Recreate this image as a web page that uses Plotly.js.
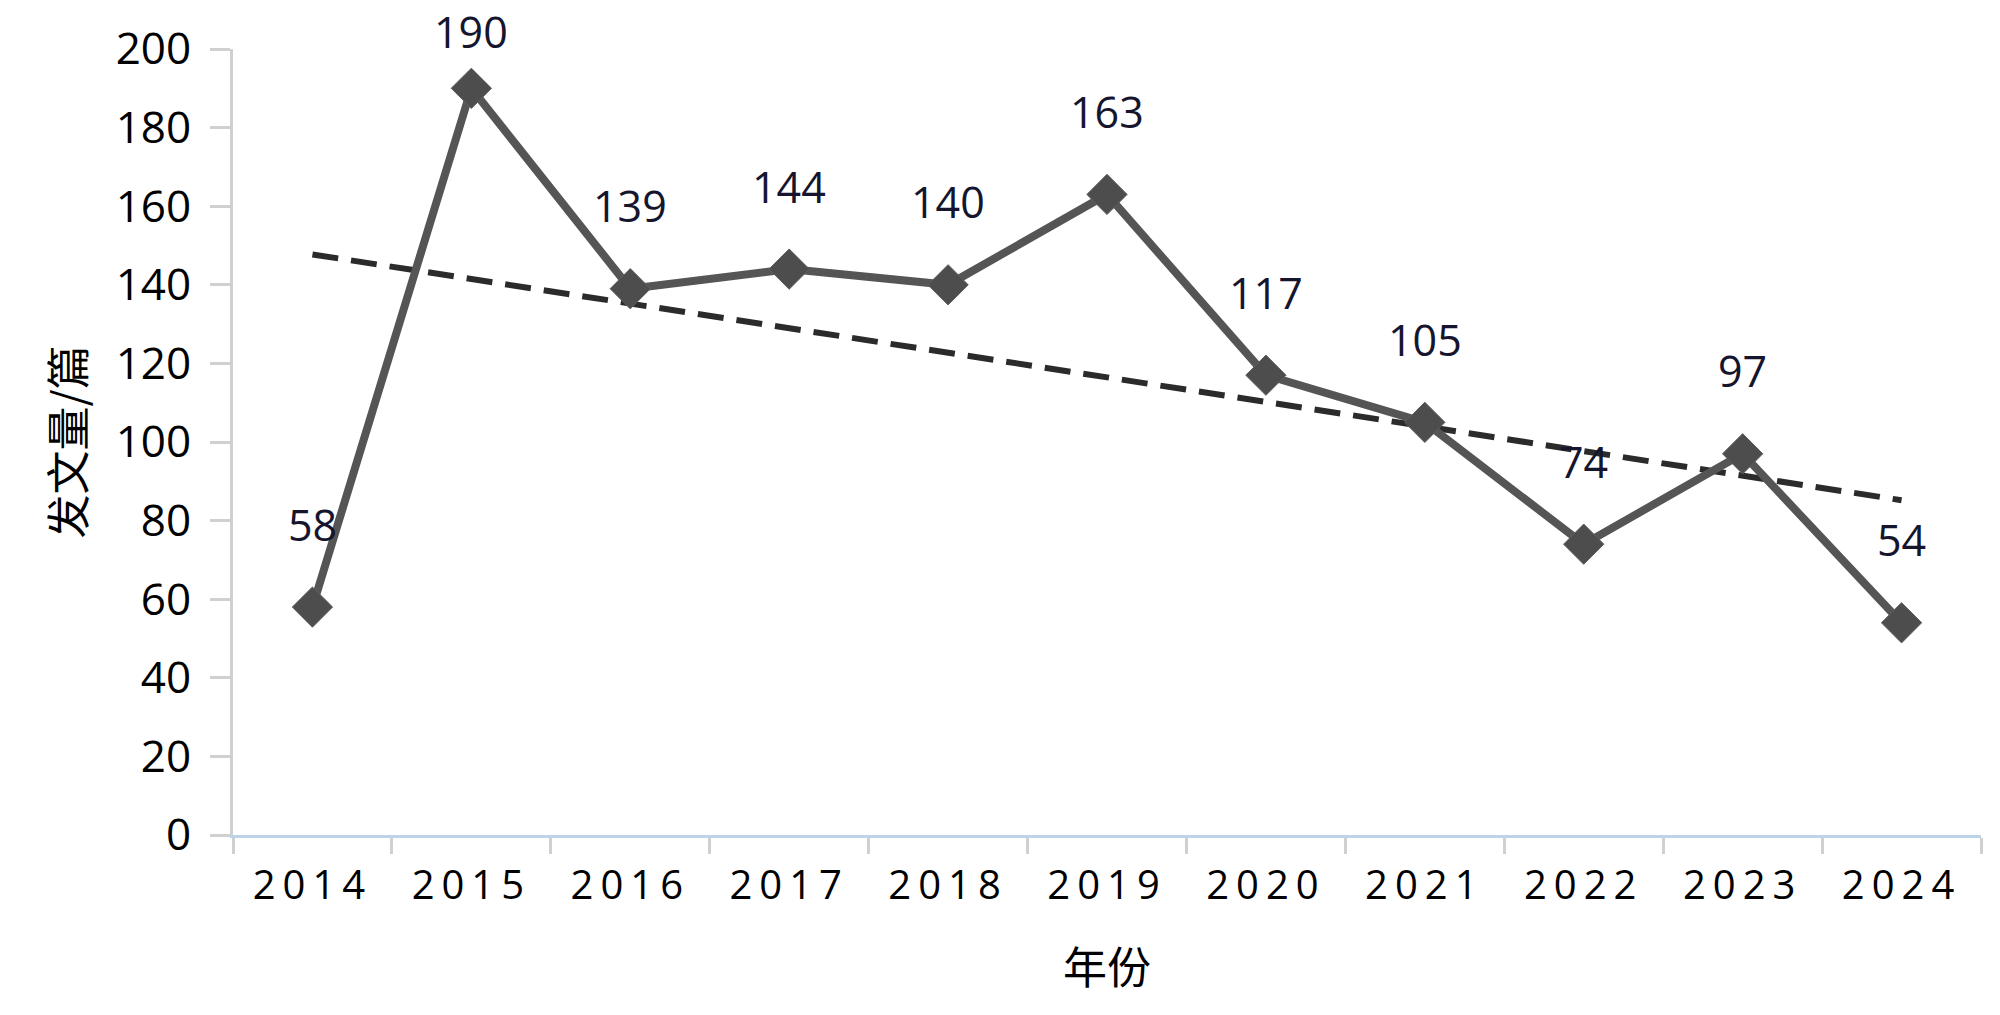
<!DOCTYPE html>
<html>
<head>
<meta charset="utf-8">
<script src="https://cdn.plot.ly/plotly-3.0.1.min.js"></script>
<style>
  html, body { margin: 0; padding: 0; background: #ffffff; }
  #chart { width: 2000px; height: 1015px; }
  .xtick text { letter-spacing: 7px; }
</style>
</head>
<body>
<div id="chart"></div>
<script>
// ---- data ----
const years = ['2014', '2015', '2016', '2017', '2018', '2019', '2020', '2021', '2022', '2023', '2024'];
const counts = [58, 190, 139, 144, 140, 163, 117, 105, 74, 97, 54];
const yTickValues = [0, 20, 40, 60, 80, 100, 120, 140, 160, 180, 200];
const xAxisTitle = '年份';
const yAxisTitle = '发文量/篇';

// ---- linear trend (least squares over the series) ----
const idx = counts.map((_, i) => i);
const mx = idx.reduce((a, b) => a + b, 0) / idx.length;
const my = counts.reduce((a, b) => a + b, 0) / counts.length;
let sxy = 0, sxx = 0;
idx.forEach((x, i) => { sxy += (x - mx) * (counts[i] - my); sxx += (x - mx) * (x - mx); });
const slope = sxy / sxx;
const intercept = my - slope * mx;
const trend = idx.map(x => intercept + slope * x);

// ---- layout constants ----
const W = 2000, H = 1015;
const M = { l: 233, r: 19, t: 49, b: 180 };
const plotH = H - M.t - M.b;
const yMax = 200;
const pxPerUnit = plotH / yMax;
const labelLift = 83;

const annotations = counts.map((v, i) => {
  const roomAbove = M.t + (yMax - v) * pxPerUnit;
  return {
    x: i, y: v, xref: 'x', yref: 'y',
    text: String(v), showarrow: false,
    xanchor: 'center', yanchor: 'middle',
    yshift: Math.min(labelLift, roomAbove - 32),
    font: { family: 'Open Sans, sans-serif', size: 43, color: '#15152e' }
  };
});

const data = [
  {
    x: years, y: trend, type: 'scatter', mode: 'lines',
    line: { color: '#2b2b2b', width: 6, dash: '26px,13px' },
    hoverinfo: 'skip', showlegend: false
  },
  {
    x: years, y: counts, type: 'scatter', mode: 'lines+markers',
    line: { color: '#555555', width: 8 },
    marker: { symbol: 'diamond', size: 31, color: '#4d4d4d', line: { color: '#5e5e5e', width: 1 } },
    showlegend: false, cliponaxis: false
  }
];

const layout = {
  width: W, height: H,
  margin: M,
  paper_bgcolor: '#ffffff', plot_bgcolor: '#ffffff',
  showlegend: false,
  xaxis: {
    type: 'category',
    range: [-0.5, years.length - 0.5],
    showgrid: false, zeroline: false,
    showline: true, linecolor: '#bcd3ea', linewidth: 3,
    ticks: 'outside', tickson: 'boundaries', ticklen: 16, tickwidth: 3, tickcolor: '#d0d0d0',
    ticklabelstandoff: 13,
    tickfont: { family: 'Open Sans, sans-serif', size: 40, color: '#000000' },
    title: { text: xAxisTitle, font: { family: 'Noto Sans CJK SC, sans-serif', size: 44, color: '#000000' }, standoff: 44 }
  },
  yaxis: {
    range: [0, yMax],
    tickvals: yTickValues,
    showgrid: false, zeroline: false,
    showline: true, linecolor: '#d0d0d0', linewidth: 3,
    ticks: 'outside', ticklen: 20, tickwidth: 3, tickcolor: '#d0d0d0',
    ticklabelstandoff: 10,
    tickfont: { family: 'Open Sans, sans-serif', size: 44, color: '#000000' },
    title: { text: yAxisTitle, font: { family: 'Noto Sans CJK SC, sans-serif', size: 44, color: '#000000' }, standoff: 17 }
  },
  annotations: annotations
};

Plotly.newPlot('chart', data, layout, { displayModeBar: false, staticPlot: true });
</script>
</body>
</html>
